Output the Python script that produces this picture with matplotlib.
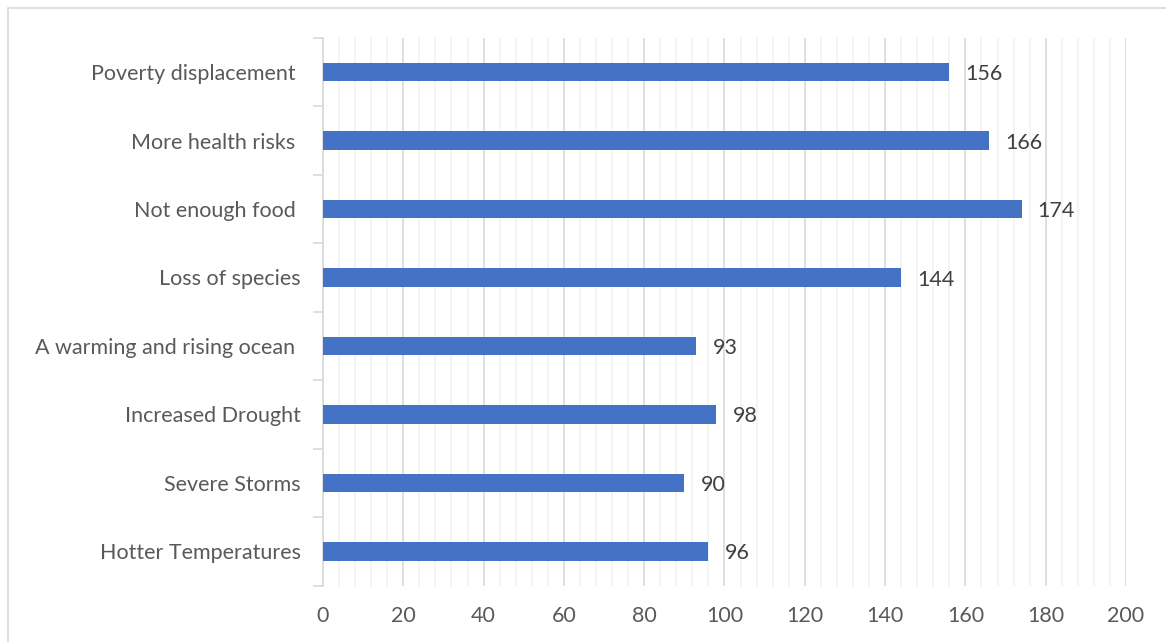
import matplotlib
matplotlib.use("Agg")
import matplotlib.pyplot as plt
from matplotlib.patches import Rectangle
from matplotlib.ticker import MultipleLocator

categories = ["Hotter Temperatures", "Severe Storms", "Increased Drought",
              "A warming and rising ocean ", "Loss of species", "Not enough food ",
              "More health risks ", "Poverty displacement "]
values = [96, 90, 98, 93, 144, 174, 166, 156]
xticks = [0, 20, 40, 60, 80, 100, 120, 140, 160, 180, 200]

plt.rcParams['font.family'] = ['Lato', 'DejaVu Sans']

fig = plt.figure(figsize=(11.66, 6.42), dpi=100)
ax = fig.add_axes([0.277, 0.088, 0.6887, 0.853])

# light outer frame (only top and left edges are visible in the reference)
fig.patches.append(Rectangle((8 / 1166, -0.1), 1.2, 1 - 8 / 642 + 0.1,
                             transform=fig.transFigure, fill=False,
                             edgecolor="#d9d9d9", linewidth=1.2))

pos = list(range(len(categories)))
bars = ax.barh(pos, values, height=0.27, color="#4472c4", zorder=3)

for p, v in zip(pos, values):
    ax.text(v + 4, p - 0.03, str(v), va="center", ha="left",
            fontsize=15.5, color="#404040")

ax.set_xlim(0, 200)
ax.set_ylim(-0.5, len(categories) - 0.5)
ax.set_xticks(xticks)
ax.xaxis.set_minor_locator(MultipleLocator(4))
ax.grid(axis="x", which="major", color="#d9d9d9", linewidth=1.2, zorder=0)
ax.grid(axis="x", which="minor", color="#f2f2f2", linewidth=1.2, zorder=0)

ax.set_yticks(pos)
ax.set_yticklabels(categories)
ax.set_yticks([p + 0.5 for p in range(-1, len(categories))], minor=True)
ax.tick_params(axis="y", which="major", length=0, pad=16, labelsize=15.5,
               labelcolor="#595959")
ax.tick_params(axis="y", which="minor", length=7, color="#d9d9d9", width=1.2)
ax.tick_params(axis="x", which="both", length=0, pad=15, labelsize=15.5,
               labelcolor="#595959")

for side in ["top", "right", "bottom"]:
    ax.spines[side].set_visible(False)
ax.spines["left"].set_color("#d9d9d9")
ax.spines["left"].set_linewidth(1.2)

fig.savefig("out.png", dpi=100)
